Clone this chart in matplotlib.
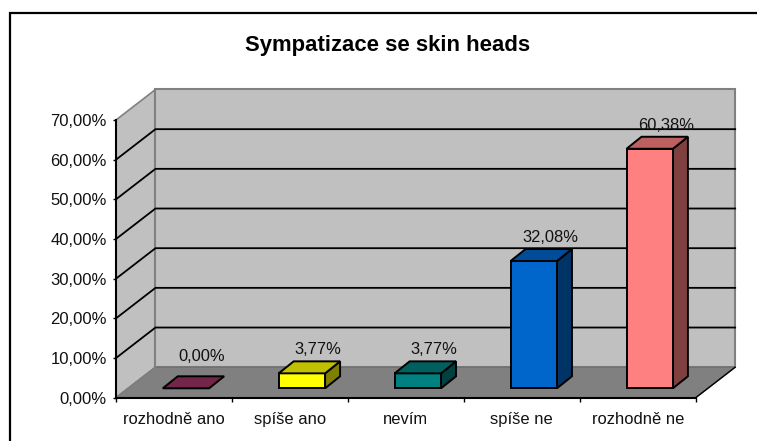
"""Sympatizace se skin heads: fake-3D column chart, Excel style."""
import matplotlib
matplotlib.use('Agg')
import matplotlib.pyplot as plt
from matplotlib.lines import Line2D
from matplotlib.patches import Polygon

plt.rcParams['font.family'] = ['Liberation Sans', 'DejaVu Sans']

CATEGORIES = ['rozhodně ano', 'spíše ano', 'nevím', 'spíše ne', 'rozhodně ne']
VALUES = [0.00, 3.77, 3.77, 32.08, 60.38]
VALUE_LABELS = ['0,00%', '3,77%', '3,77%', '32,08%', '60,38%']
TICKS = [0, 10, 20, 30, 40, 50, 60, 70]
TICK_LABELS = ['0,00%', '10,00%', '20,00%', '30,00%', '40,00%', '50,00%', '60,00%', '70,00%']
FRONT = ['#993366', '#FFFF00', '#008080', '#0066CC', '#FF8080']
TOP = ['#732649', '#C0C000', '#006060', '#004C99', '#BF6060']
SIDE = ['#4D1933', '#808000', '#004040', '#003366', '#804040']

W, H = 757, 441
fig = plt.figure(figsize=(W / 100, H / 100), dpi=100)

# chart frame: only the top and left edges are inside the picture
fig.add_artist(Line2D([10 / W, 10 / W, 1.0], [0, 1 - 13 / H, 1 - 13 / H], color='black',
                      lw=1.6, solid_joinstyle='miter', transform=fig.transFigure))

# axes sit on the front plane of the fake 3D box
left, right, top, bottom = 116, 695.7, 120, 397.7
ax = fig.add_axes([left / W, 1 - bottom / H, (right - left) / W, (bottom - top) / H])
ax.set_xlim(0, 5)
ax.set_ylim(0, 70)
ax.patch.set_visible(False)

DX = 39.5 / 116       # box depth, categories
DY = 30.5 / 3.967     # box depth, percent
BAR_W = 0.4
BAR_DX = 15 / 116
BAR_DY = 12 / 3.967
OFF_X = 12 / 116      # bars stand a bit behind the front edge
OFF_Y = 9.4 / 3.967


def poly(pts, color, edge='black', lw=1.4, z=2):
    ax.add_patch(Polygon(pts, closed=True, facecolor=color, edgecolor=edge,
                         linewidth=lw, clip_on=False, zorder=z, joinstyle='miter'))


# walls and floor
poly([(0, 0), (DX, DY), (DX, 70 + DY), (0, 70)], '#C0C0C0', '#808080', 1.2, 1)
poly([(DX, DY), (5 + DX, DY), (5 + DX, 70 + DY), (DX, 70 + DY)], '#C0C0C0', '#808080', 1.5, 1)
poly([(0, 0), (5, 0), (5 + DX, DY), (DX, DY)], '#808080', '#707070', 1.0, 1)
ax.plot([5, 5 + DX], [0, DY], color='black', lw=1.0, clip_on=False, zorder=1.6)
ax.plot([0, DX], [0, DY], color='#808080', lw=1.0, clip_on=False, zorder=1.6)

# gridlines run along the side wall and the back wall
for t in TICKS[1:-1]:
    ax.plot([0, DX, 5 + DX], [t, t + DY, t + DY], color='black', lw=1.3,
            clip_on=False, zorder=1.5, solid_joinstyle='miter')

for i, v in enumerate(VALUES):
    x0 = i + 0.5 - BAR_W / 2 + OFF_X
    x1 = x0 + BAR_W
    y0 = OFF_Y
    y1 = y0 + v
    if v > 0:
        poly([(x1, y0), (x1 + BAR_DX, y0 + BAR_DY), (x1 + BAR_DX, y1 + BAR_DY), (x1, y1)], SIDE[i], z=3)
        poly([(x0, y0), (x1, y0), (x1, y1), (x0, y1)], FRONT[i], z=3)
    poly([(x0, y1), (x1, y1), (x1 + BAR_DX, y1 + BAR_DY), (x0 + BAR_DX, y1 + BAR_DY)], TOP[i], z=3)
    lift = 3.2 if v == 0 else 1.0   # Excel floats the empty bar's label higher
    ax.text(x0 + BAR_W / 2 + BAR_DX + 0.01, y1 + BAR_DY + lift, VALUE_LABELS[i],
            ha='center', va='bottom', fontsize=11.9, color='#111111', zorder=4)

for s in ['top', 'right']:
    ax.spines[s].set_visible(False)
for s in ['left', 'bottom']:
    ax.spines[s].set_linewidth(1.5)
    ax.spines[s].set_zorder(5)

ax.set_yticks(TICKS)
ax.set_yticklabels(TICK_LABELS, fontsize=12, color='#111111')
ax.set_xticks(range(6))
ax.set_xticklabels([])
ax.set_xticks([i + 0.5 for i in range(5)], minor=True)
ax.set_xticklabels(CATEGORIES, minor=True, fontsize=11.9, color='#111111')
ax.tick_params(axis='x', which='major', length=3, width=1.0, direction='out')
ax.tick_params(axis='x', which='minor', length=0, pad=10)
ax.tick_params(axis='y', length=2.5, width=1.0, direction='out', pad=4)

fig.text(387.5 / W, 1 - 45 / H, 'Sympatizace se skin heads', ha='center', va='center',
         fontsize=15.9, fontweight='bold', color='black')

fig.savefig('out.png', dpi=100)
